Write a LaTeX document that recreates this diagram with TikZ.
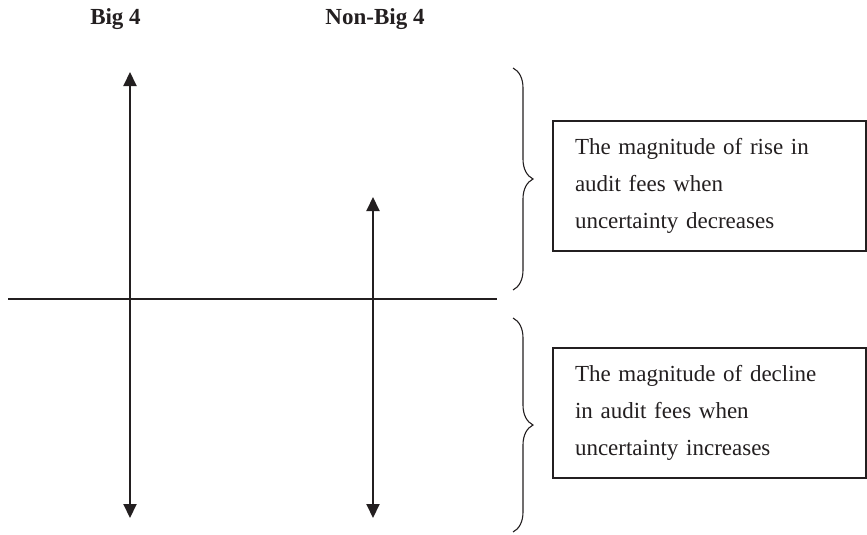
\documentclass[tikz,border=0pt]{standalone}
\usepackage{fontspec}
\setmainfont{Liberation Serif}
\usepackage{tikz}
\usetikzlibrary{arrows.meta, positioning, decorations.pathreplacing}
\definecolor{inkblack}{RGB}{35,31,32}

\begin{document}
\begin{tikzpicture}[x=1pt, y=-1pt,
    axis/.style={line width=2pt, draw=inkblack},
    span/.style={axis, {Triangle[width=13pt,length=14pt]}-{Triangle[width=13pt,length=14pt]}},
    curly/.style={draw=inkblack, line width=1.1pt, decorate, decoration={brace, amplitude=20pt}},
    note/.style={draw=inkblack, line width=1.5pt, text width=269pt, inner xsep=22pt, minimum height=130pt, align=left, font=\fontsize{23}{37}\selectfont, text=inkblack},
    head/.style={font=\bfseries\fontsize{23}{28}\selectfont, text=inkblack, anchor=base}
]
\useasboundingbox (0,0) rectangle (867,535);
\node[head] (big) at (115.5,25) {Big 4};
\node[head] (nonbig) at (375,25) {Non-Big 4};

\coordinate (bigtop) at (130,72);
\coordinate (bigbot) at (130,518);
\coordinate (nbtop) at (373,197);
\coordinate (nbbot) at (373,518);
\coordinate (axl) at (8,299);
\coordinate (axr) at (497,299);

\draw[axis] (axl) -- (axr);
\draw[span] (bigtop) -- (bigbot);
\draw[span] (nbtop) -- (nbbot);

\coordinate (risetop) at (513,68);
\coordinate (risebot) at (513,290);
\coordinate (droptop) at (513,318);
\coordinate (dropbot) at (513,532);
\draw[curly] (risetop) -- (risebot);
\draw[curly] (droptop) -- (dropbot);

\node[note] (rise) at (709.5,186) {The magnitude of rise in\\ audit fees when\\ uncertainty decreases};
\node[note] (drop) at (709.5,413) {The magnitude of decline\\ in audit fees when\\ uncertainty increases};
\end{tikzpicture}
\end{document}
